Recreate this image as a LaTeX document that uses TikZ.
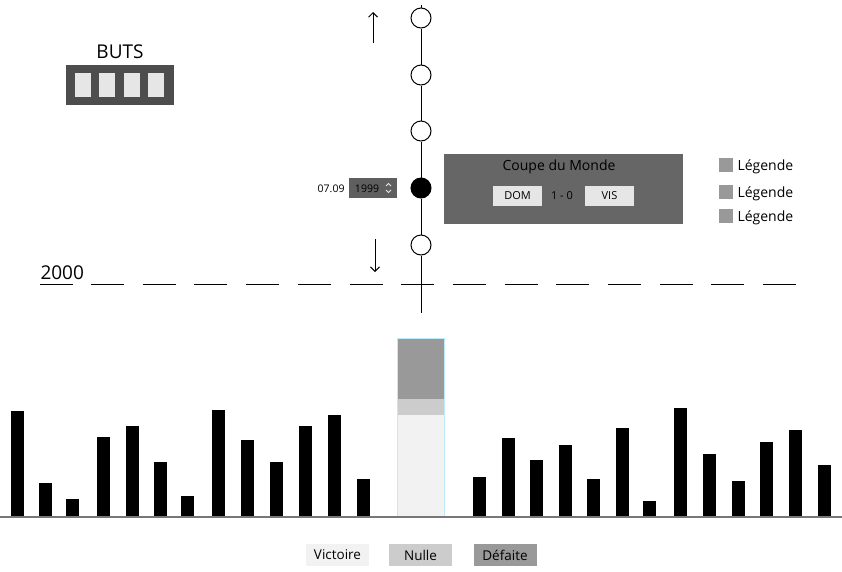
\documentclass[tikz,border=0pt]{standalone}
\usepackage{fontspec}
\setmainfont{Open Sans}
\usetikzlibrary{positioning,arrows.meta}

\definecolor{panelgray}{HTML}{4D4D4D}
\definecolor{infogray}{HTML}{666666}
\definecolor{slotgray}{HTML}{E6E6E6}
\definecolor{vicgray}{HTML}{F2F2F2}
\definecolor{nulgray}{HTML}{CCCCCC}
\definecolor{defgray}{HTML}{999999}
\definecolor{axisgray}{HTML}{777777}

\begin{document}
\begin{tikzpicture}[x=1pt,y=-1pt,line width=1pt,>={Straight Barb[length=4.5pt,width=9pt]},
	txt/.style={font=\fontsize{#1}{#1}\selectfont,inner sep=0pt},
	slot/.style={fill=slotgray,minimum width=16pt,minimum height=24pt,inner sep=0pt},
	dot/.style={circle,draw=black,fill=white,minimum size=20pt,inner sep=0pt},
	team/.style={fill=slotgray,minimum width=49pt,minimum height=20pt,inner sep=0pt,font=\fontsize{11}{11}\selectfont},
	key/.style={fill=#1,minimum width=63pt,minimum height=22pt,inner sep=0pt,font=\fontsize{13.5}{13.5}\selectfont}]
		
		% Fix the page size
		\useasboundingbox (0,0) rectangle (842,571);
		
		% Goals panel
		\node[txt=19] (buts) at (120,52) {BUTS};
		\node[fill=panelgray,minimum width=108pt,minimum height=40pt,inner sep=0pt] (butsbox) at (120,85) {};
		\foreach \i/\x in {1/83,2/107,3/132,4/156}
			\node[slot] (slot\i) at (\x,85) {};
		
		% Timeline with its matches
		\coordinate (top) at (421,5);
		\coordinate (bottom) at (421,313);
		\foreach \i/\y in {1/18,2/75,3/131,5/245}
			\node[dot] (m\i) at (421,\y) {};
		\node[dot,fill=black] (m4) at (421,188) {};
		\draw (top) -- (m1) -- (m2) -- (m3) -- (m4) -- (m5) -- (bottom);
		
		% Scroll arrows
		\coordinate (upA) at (373,43);
		\coordinate (upB) at (373,12);
		\coordinate (downA) at (375,239);
		\coordinate (downB) at (375,272);
		\draw[->] (upA) -- (upB);
		\draw[->] (downA) -- (downB);
		
		% Year separator
		\node[txt=19,anchor=base west] (year) at (40,279) {2000};
		\draw (40,284) -- (73,284);
		\foreach \i in {0,...,13}
			\draw ({91+51.7*\i},284) -- ++(33,0);
		
		% Date picker
		\node[txt=10.5,anchor=east] (date) at (345,189) {07.09};
		\node[fill=panelgray!90,minimum width=48pt,minimum height=20pt,inner sep=0pt] (picker) at (373,188) {};
		\node[txt=10.5] (pickyear) at (367,189) {1999};
		\draw[slotgray,line width=0.8pt] (386,186) -- (388.5,183.5) -- (391,186);
		\draw[slotgray,line width=0.8pt] (386,190) -- (388.5,192.5) -- (391,190);
		
		% Match card
		\node[fill=infogray,minimum width=239pt,minimum height=70pt,inner sep=0pt] (card) at (563.5,188.5) {};
		\node[txt=14] (cup) at (559,166.5) {Coupe du Monde};
		\node[team] (dom) at (517.5,196) {DOM};
		\node[txt=11] (score) at (562,196) {1 - 0};
		\node[team] (vis) at (609.5,196) {VIS};
		
		% Legend
		\foreach \i/\y in {1/165,2/192,3/216} {
			\node[fill=defgray,minimum size=14pt,inner sep=0pt] (sq\i) at (726,\y) {};
			\node[txt=14,anchor=west] (leg\i) at (737,\y+1.5) {Légende};
		}
		
		% Bar chart
		\coordinate (axisL) at (0,517);
		\coordinate (axisR) at (842,517);
		\foreach \x/\h in {17/411,45.5/483,72.5/499,103.5/437,132/426,160.5/462,187.5/496,218.5/410,247.5/440,276.5/462,305.5/426,334.5/415,363.5/479,
			479.5/477,508/438,536.5/460,565.5/445,593.5/479,622.5/428,649.5/501,680/408,709.5/454,738/481,766.5/442,795.5/430,824.5/465}
			\fill ({\x-6.5},517) rectangle ({\x+6.5},\h);
		
		% Selected year
		\fill[defgray] (397,338) rectangle (444,399);
		\fill[nulgray] (397,399) rectangle (444,415);
		\fill[vicgray] (397,415) rectangle (444,517);
		\draw[cyan!25,line width=0.8pt] (397,338) rectangle (444,517);
		\draw[axisgray,line width=1.5pt] (axisL) -- (axisR);
		
		% Result keys
		\node[key=vicgray] (vic) at (337.5,555) {Victoire};
		\node[key=nulgray] (nul) at (420.5,555) {Nulle};
		\node[key=defgray] (def) at (505,555) {Défaite};
		
		\end{tikzpicture}
\end{document}
